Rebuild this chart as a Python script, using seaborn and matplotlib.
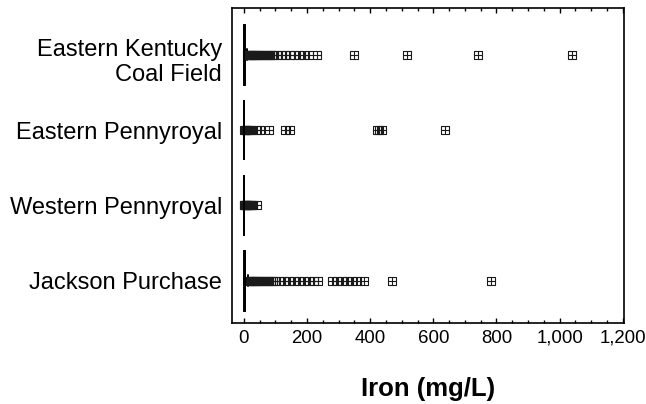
import numpy as np
import pandas as pd
import matplotlib
matplotlib.use("Agg")
import matplotlib.pyplot as plt
from matplotlib.path import Path
from matplotlib.ticker import FuncFormatter, MultipleLocator
from matplotlib.transforms import ScaledTranslation
import seaborn as sns

regions = ["Eastern Kentucky\nCoal Field", "Eastern Pennyroyal",
           "Western Pennyroyal", "Jackson Purchase"]

# Bulk of the samples near zero: concentration level (mg/L) and sample count at each level
ekcf_levels = [0.05, 0.1, 0.3, 0.6, 1.0, 2.0, 3.0, 4.0, 6.0, 9.0]
ekcf_counts = [40, 30, 25, 20, 20, 20, 15, 15, 10, 5]
ep_levels = [0.02, 0.05, 0.1, 0.2, 0.3, 0.5, 0.8, 1.0]
ep_counts = [20, 20, 20, 20, 15, 15, 5, 5]
wp_levels = [0.02, 0.05, 0.1, 0.2, 0.3, 0.5]
wp_counts = [20, 20, 20, 15, 15, 10]
jp_levels = [0.05, 0.1, 0.3, 0.6, 1.0, 2.0, 3.0, 5.0, 8.0, 12.0]
jp_counts = [40, 30, 25, 20, 20, 25, 25, 40, 15, 10]

# High-iron samples (mg/L)
ekcf_high = [11, 13, 16, 19, 22, 25, 29, 33, 37, 41, 46, 51, 56, 61, 66, 72, 78,
             84, 90, 96, 105, 121, 130, 146, 159, 175, 190, 206, 232,
             349, 515, 743, 1039]
ep_high = [1.5, 3, 5, 8, 11, 14, 18, 22, 41, 52, 79, 131, 147, 420, 428, 436, 636]
wp_high = [0.8, 1.5, 2.5, 4, 6, 8, 10, 13, 16, 19, 22, 25, 28, 43]
jp_high = [15, 18, 21, 25, 29, 33, 37, 42, 47, 52, 57, 63, 69, 75, 81, 87, 93, 99,
           111, 127, 143, 159, 175, 191, 207, 223, 235,
           280, 296, 312, 328, 343, 359, 381, 470, 782]

x_ticks = [0, 200, 400, 600, 800, 1000, 1200]

groups = [
    (regions[0], ekcf_levels, ekcf_counts, ekcf_high),
    (regions[1], ep_levels, ep_counts, ep_high),
    (regions[2], wp_levels, wp_counts, wp_high),
    (regions[3], jp_levels, jp_counts, jp_high),
]
frames = []
for name, levels, counts, high in groups:
    vals = np.concatenate([np.repeat(levels, counts), np.asarray(high, float)])
    frames.append(pd.DataFrame({"region": name, "iron": vals}))
df = pd.concat(frames, ignore_index=True)

sns.set_style("white")
plt.rcParams["font.family"] = ["Liberation Sans", "DejaVu Sans"]
plt.rcParams["text.color"] = "black"
plt.rcParams["axes.labelcolor"] = "black"
plt.rcParams["xtick.color"] = "black"
plt.rcParams["ytick.color"] = "black"

# Outlier symbol: open square with a cross through it
verts = [(-1, -1), (1, -1), (1, 1), (-1, 1), (-1, -1),
         (-1.15, 0), (1.15, 0), (0, -1.15), (0, 1.15)]
codes = [Path.MOVETO, Path.LINETO, Path.LINETO, Path.LINETO, Path.CLOSEPOLY,
         Path.MOVETO, Path.LINETO, Path.MOVETO, Path.LINETO]
box_plus = Path(verts, codes)

fig = plt.figure(figsize=(6.46, 4.04), dpi=100)
ax = fig.add_axes([0.359, 0.2005, 0.607, 0.7795])

sns.boxplot(
    data=df, x="iron", y="region", order=regions, orient="h", ax=ax,
    width=0.8, color="white", linecolor="black", linewidth=1.4,
    fliersize=6.3,
    flierprops=dict(marker=box_plus, markerfacecolor="none",
                    markeredgecolor="#1a1a1a", markeredgewidth=0.8),
    capwidths=0.15,
)

ax.set_xlim(-38, 1204)
ax.set_ylim(3.56, -0.62)
ax.set_xticks(x_ticks)
ax.xaxis.set_minor_locator(MultipleLocator(50))
ax.xaxis.set_major_formatter(FuncFormatter(lambda v, p: f"{v:,.0f}"))

ax.tick_params(axis="x", which="both", direction="in", top=True, bottom=True,
               color="black", labelcolor="black", width=1.0, labelsize=13.4, pad=5)
ax.tick_params(axis="x", which="major", length=3.8)
ax.tick_params(axis="x", which="minor", length=2.0)
ax.tick_params(axis="y", length=0, labelsize=17, pad=7, labelcolor="black")

ylabels = ax.get_yticklabels()
for lab in ylabels:
    lab.set_linespacing(1.15)
# the two-line label sits slightly below its row centre
ylabels[0].set_transform(ylabels[0].get_transform()
                         + ScaledTranslation(0, -0.04, fig.dpi_scale_trans))

for s in ax.spines.values():
    s.set_visible(True)
    s.set_color("black")
    s.set_linewidth(1.2)

ax.set_ylabel("")
ax.set_xlabel("Iron (mg/L)", fontsize=18.5, fontweight="bold", labelpad=22,
              color="black")

fig.savefig("out.png", dpi=100)
